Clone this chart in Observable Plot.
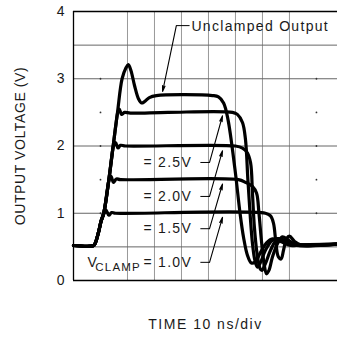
<!DOCTYPE html>
<html><head><meta charset="utf-8">
<script src="https://cdn.jsdelivr.net/npm/d3@7"></script>
<script src="https://cdn.jsdelivr.net/npm/@observablehq/plot@0.6"></script>
<style>body{margin:0;background:#fff}svg{display:block}</style>
</head><body><div id="chart"></div>
<script>
// time in ns (10 ns/div), voltage in V
const unclamped = [[0,0.52],[7.4,0.52],[8.1,0.56],[9.4,0.74],[10.2,0.88],[11.2,1.0],[13.1,1.5],[14.7,2.0],[16.3,2.5],[18.0,3.0],[19.4,3.16],[20.3,3.21],[21.3,3.12],[22.6,2.9],[24.1,2.7],[25.2,2.64],[26.3,2.66],[28.1,2.72],[30.7,2.75],[51.5,2.75],[53.7,2.73],[55.6,2.64],[57.2,2.4],[59.8,1.66],[61.7,1.0],[63.0,0.64],[64.4,0.38],[65.9,0.26],[67.4,0.28],[69.3,0.42],[71.5,0.56],[73.7,0.62],[76.7,0.58],[80.4,0.52],[84.1,0.53],[97.8,0.54]];
const clamp25 = [[0,0.52],[7.4,0.52],[8.1,0.56],[9.4,0.74],[10.2,0.88],[11.2,1.0],[13.1,1.5],[14.7,2.0],[15.7,2.32],[16.4,2.5],[17.0,2.55],[17.8,2.47],[18.9,2.5],[21.1,2.49],[35,2.5],[58.9,2.5],[60.7,2.47],[62.6,2.35],[63.7,2.1],[64.6,1.5],[65.4,1.0],[66.3,0.55],[67.2,0.3],[68.1,0.2],[69.3,0.27],[71.1,0.45],[73.7,0.6],[76,0.62],[79.6,0.55],[84.1,0.53],[97.8,0.54]];
const clamp20 = [[0,0.52],[7.4,0.52],[8.1,0.56],[9.4,0.74],[10.2,0.88],[11.2,1.0],[13.1,1.5],[14.2,1.85],[14.8,2.0],[15.6,2.05],[16.5,1.97],[17.4,2.01],[19.3,2.0],[60,2.0],[62.6,1.97],[64.4,1.9],[65.6,1.75],[66.3,1.3],[67,0.8],[68,0.4],[69.1,0.18],[69.8,0.15],[71.1,0.25],[73,0.45],[75.6,0.62],[78.1,0.6],[81.9,0.53],[97.8,0.54]];
const clamp15 = [[0,0.52],[7.4,0.52],[8.1,0.56],[9.4,0.74],[10.2,0.88],[11.2,1.0],[12.6,1.37],[13.2,1.5],[13.9,1.55],[14.8,1.46],[15.9,1.51],[17.4,1.5],[61.1,1.5],[63.7,1.46],[66.3,1.4],[67.8,1.3],[68.7,1.0],[69.6,0.6],[70.6,0.25],[71.5,0.1],[72.4,0.15],[73.7,0.35],[75.6,0.55],[77.4,0.65],[79.6,0.6],[82.6,0.53],[97.8,0.54]];
const clamp10 = [[0,0.52],[7.4,0.52],[8.1,0.56],[9.4,0.74],[10.2,0.88],[11.3,1.0],[12.0,1.05],[13.1,0.97],[14.1,1.01],[15.6,1.0],[71.1,1.0],[73,0.96],[74.1,0.85],[75,0.55],[75.9,0.35],[76.9,0.32],[77.8,0.45],[78.9,0.62],[80,0.66],[81.9,0.58],[84.1,0.53],[97.8,0.54]];
const seriesNames = ["Unclamped Output","2.5V","2.0V","1.5V","1.0V"];
const seriesData = [unclamped, clamp25, clamp20, clamp15, clamp10];

const yTicks = [0,1,2,3,4];
const hGrid = [0.5,1,2,3,3.5];
const vGrid = [20,30,40,50,60,70,80];
const dotTimes = [10,90];
const dotLevels = [1,1.5,2,2.5,3];

const clampLabels = ["= 2.5V","= 2.0V","= 1.5V","= 1.0V"];
const clampLabelV = [1.755,1.25,0.77,0.27];
const clampTipV = [2.45,1.93,1.435,0.94];
const clampLabelT = 25.9, dashStartT = 47.0, dashEndT = 50.4, tipT = 55.2;
const vclampT = 5.2, vclampSubT = 8.1;

const unclampedLabel = "Unclamped Output";
const unclampedLabelT = 43.7, unclampedLabelV = 3.777;
const unclampedLeader = {x0: 43.0, x1: 38.1, y: 3.79, tipX: 33.0, tipY: 2.81};

const yLabel = "OUTPUT VOLTAGE (V)";
const xLabel = "TIME 10 ns/div";

const rows = seriesData.flatMap((d, i) => d.map(([t, v]) => ({series: seriesNames[i], t, v})));
const dots = dotTimes.flatMap(t => dotLevels.map(v => ({t, v})));
const labels = clampLabels.map((s, i) => ({s, v: clampLabelV[i], tip: clampTipV[i]}));

const font = "Liberation Sans, Arial, sans-serif";
const ink = "#1a1a1a";
const svg = Plot.plot({
  width: 337, height: 338,
  marginLeft: 73, marginRight: 0, marginTop: 11, marginBottom: 58,
  style: {fontFamily: font, fontSize: "14px", background: "#fff", color: ink},
  x: {domain: [0, 97.8], axis: null},
  y: {domain: [0, 4]},
  marks: [
    Plot.ruleX(vGrid, {stroke: "#999", strokeWidth: 1}),
    Plot.ruleY(hGrid, {stroke: "#666", strokeWidth: 1}),
    Plot.dot(dots, {x: "t", y: "v", r: 0.9, fill: "#333", stroke: null}),
    Plot.ruleX([0], {stroke: "#000", strokeWidth: 1.3}),
    Plot.ruleY([0, 4], {stroke: "#000", strokeWidth: 1.3}),
    Plot.axisY({ticks: yTicks, tickSize: 0, tickPadding: 9, tickFormat: d => String(d), label: null, fontSize: 14}),
    Plot.line(rows, {x: "t", y: "v", z: "series", curve: "catmull-rom", stroke: "#000", strokeWidth: 3.2, strokeLinejoin: "round", strokeLinecap: "round"}),
    // clamp labels and leaders
    Plot.text(labels, {x: () => clampLabelT, y: "v", text: "s", textAnchor: "start", fontSize: 14, fill: ink}),
    Plot.link(labels, {x1: () => dashStartT, x2: () => dashEndT, y1: "v", y2: "v", stroke: "#000", strokeWidth: 1}),
    Plot.arrow(labels, {x1: () => dashEndT, y1: "v", x2: () => tipT, y2: "tip", stroke: "#000", strokeWidth: 1.1, headLength: 8, headAngle: 25}),
    Plot.text(["V"], {x: vclampT, y: clampLabelV[3], textAnchor: "start", fontSize: 14, fill: ink}),
    Plot.text(["CLAMP"], {x: vclampSubT, y: clampLabelV[3], dy: 5, textAnchor: "start", fontSize: 11.5, fill: ink}),
    // unclamped label
    Plot.text([unclampedLabel], {x: unclampedLabelT, y: unclampedLabelV, textAnchor: "start", fontSize: 14, fill: ink}),
    Plot.link([unclampedLeader], {x1: "x0", x2: "x1", y1: "y", y2: "y", stroke: "#000", strokeWidth: 1}),
    Plot.arrow([unclampedLeader], {x1: "x1", y1: "y", x2: "tipX", y2: "tipY", stroke: "#000", strokeWidth: 1.1, headLength: 8, headAngle: 25}),
    // axis titles
    Plot.text([yLabel], {frameAnchor: "left", dx: -53, rotate: -90, textAnchor: "middle", fontSize: 14, fill: ink}),
    Plot.text([xLabel], {frameAnchor: "bottom", dy: 48, textAnchor: "middle", fontSize: 14, fill: ink})
  ]
});
const spacing = {"OUTPUT VOLTAGE (V)": "0.6px", "TIME 10 ns/div": "1.5px", "Unclamped Output": "1.3px", "CLAMP": "1.2px"};
d3.select(svg).selectAll("text").each(function() {
  const s = this.textContent;
  if (spacing[s]) this.style.letterSpacing = spacing[s];
  else if (s.startsWith("=")) this.style.letterSpacing = "1.3px";
});
document.getElementById("chart").append(svg);
</script>
</body></html>
